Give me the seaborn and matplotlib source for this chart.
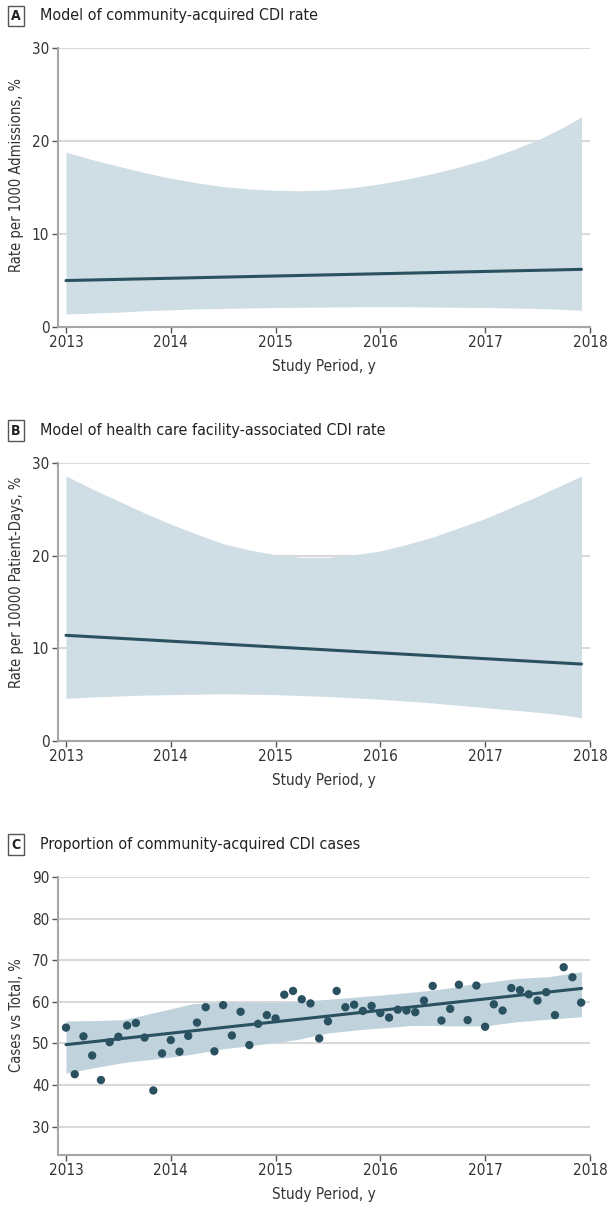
import matplotlib
matplotlib.use("Agg")
import matplotlib.pyplot as plt
import seaborn as sns
import pandas as pd

sns.set_theme(style="white")
plt.rcParams['font.family'] = ['DejaVu Sans']
plt.rcParams['font.stretch'] = 'condensed'

# panel A: community-acquired rate model
a_x = [2013.0, 2017.92]
a_fit = [5.0, 6.2]
a_band_x = [2013.0, 2013.25, 2013.5, 2013.75, 2014.0, 2014.25, 2014.5, 2014.75, 2015.0, 2015.25,
            2015.5, 2015.75, 2016.0, 2016.25, 2016.5, 2016.75, 2017.0, 2017.25, 2017.5, 2017.75, 2017.92]
a_upper = [18.8, 18.0, 17.3, 16.6, 16.0, 15.5, 15.1, 14.85, 14.7, 14.65,
           14.75, 15.0, 15.4, 15.9, 16.5, 17.2, 18.0, 19.0, 20.1, 21.5, 22.6]
a_lower = [1.4, 1.5, 1.6, 1.75, 1.85, 1.95, 2.0, 2.05, 2.1, 2.12,
           2.15, 2.18, 2.2, 2.18, 2.15, 2.12, 2.1, 2.05, 2.0, 1.9, 1.8]

# panel B: facility-associated rate model
b_x = [2013.0, 2017.92]
b_fit = [11.4, 8.3]
b_band_x = a_band_x
b_upper = [28.6, 27.2, 25.9, 24.6, 23.4, 22.3, 21.3, 20.6, 20.1, 19.8,
           19.8, 20.1, 20.5, 21.2, 22.0, 23.0, 24.0, 25.2, 26.4, 27.7, 28.6]
b_lower = [4.6, 4.75, 4.85, 4.95, 5.0, 5.05, 5.1, 5.05, 5.0, 4.9,
           4.8, 4.65, 4.5, 4.3, 4.1, 3.85, 3.6, 3.35, 3.1, 2.8, 2.5]

# panel C: proportion of community-acquired cases (monthly)
c_vals = [53.8, 42.6, 51.7, 47.1, 41.2, 50.3, 51.6, 54.3, 54.9, 51.4, 38.7, 47.6,
          50.8, 48.0, 51.8, 55.0, 58.7, 48.1, 59.2, 51.9, 57.6, 49.6, 54.7, 56.8,
          56.0, 61.7, 62.6, 60.6, 59.6, 51.2, 55.3, 62.6, 58.7, 59.3, 57.8, 59.0,
          57.3, 56.2, 58.1, 57.9, 57.5, 60.3, 63.8, 55.5, 58.3, 64.1, 55.6, 63.9,
          54.0, 59.4, 57.9, 63.3, 62.8, 61.8, 60.3, 62.3, 56.8, 68.3, 65.9, 59.8]
c_x = [2013 + m / 12 for m in range(len(c_vals))]
c_fit_x = [2013.0, 2017.92]
c_fit = [49.7, 63.2]
c_band_x = [2013.0, 2013.3, 2013.55, 2014.0, 2014.2, 2014.5, 2015.0, 2015.2, 2015.5,
            2015.8, 2016.0, 2016.3, 2016.5, 2016.7, 2016.9, 2017.0, 2017.3, 2017.6, 2017.92]
c_upper = [55.4, 55.5, 55.7, 58.3, 59.5, 60.0, 59.8, 60.1, 60.6,
           61.2, 61.6, 62.3, 62.8, 63.5, 64.4, 64.6, 65.6, 66.0, 67.2]
c_lower = [42.9, 44.3, 45.4, 46.7, 47.4, 48.7, 50.2, 50.9, 52.5,
           53.3, 53.7, 54.3, 54.3, 54.2, 54.2, 54.2, 55.2, 55.8, 56.4]

line_col = "#2a5160"
band_col = "#cfdde4"
band_col_c = "#c0d3dd"
grid_col = "#d9d9d9"
spine_col = "#a6a6a6"
text_col = "#333333"

fig = plt.figure(figsize=(6.09, 12.09), dpi=100)

panels = [
    dict(letter="A", title="Model of community-acquired CDI rate",
         ylabel="Rate per 1000 Admissions, %", rect=[0.0946, 0.7295, 0.874, 0.2308],
         ylim=(0, 30), yticks=[0, 10, 20, 30], ylab_y=0.545,
         bx=a_band_x, up=a_upper, lo=a_lower, fx=a_x, fy=a_fit, band=band_col, pts=None),
    dict(letter="B", title="Model of health care facility-associated CDI rate",
         ylabel="Rate per 10000 Patient-Days, %", rect=[0.0946, 0.3871, 0.874, 0.2300],
         ylim=(0, 30), yticks=[0, 10, 20, 30], ylab_y=0.572,
         bx=b_band_x, up=b_upper, lo=b_lower, fx=b_x, fy=b_fit, band=band_col, pts=None),
    dict(letter="C", title="Proportion of community-acquired CDI cases",
         ylabel="Cases vs Total, %", rect=[0.0946, 0.0447, 0.874, 0.2300],
         ylim=(23.2, 90), yticks=[30, 40, 50, 60, 70, 80, 90], ylab_y=0.504,
         bx=c_band_x, up=c_upper, lo=c_lower, fx=c_fit_x, fy=c_fit, band=band_col_c,
         pts=(c_x, c_vals)),
]

for p in panels:
    ax = fig.add_axes(p["rect"])
    ax.fill_between(p["bx"], p["lo"], p["up"], color=p["band"], lw=0, zorder=1)
    sns.lineplot(x=p["fx"], y=p["fy"], ax=ax, color=line_col, lw=2.2, zorder=3)
    if p["pts"] is not None:
        df = pd.DataFrame({"x": p["pts"][0], "y": p["pts"][1]})
        sns.scatterplot(data=df, x="x", y="y", ax=ax, color=line_col, s=36,
                        edgecolor="none", zorder=4)
    ax.set_xlim(2012.92, 2018)
    ax.set_ylim(*p["ylim"])
    ax.set_yticks(p["yticks"])
    ax.set_xticks([2013, 2014, 2015, 2016, 2017, 2018])
    ax.yaxis.grid(True, color=grid_col, lw=1.5, zorder=0)
    ax.set_axisbelow(True)
    for s in ["top", "right"]:
        ax.spines[s].set_visible(False)
    for s in ["left", "bottom"]:
        ax.spines[s].set_color(spine_col)
        ax.spines[s].set_linewidth(1.5)
    ax.tick_params(axis="both", which="both", direction="out", length=4, width=1,
                   color="#555555", labelcolor=text_col, labelsize=11, pad=2,
                   left=True, bottom=True)
    ax.set_xlabel("Study Period, y", fontsize=11, color=text_col, labelpad=6)
    ax.set_ylabel(p["ylabel"], fontsize=10.5, color=text_col)
    ax.yaxis.set_label_coords(-0.063, p["ylab_y"])

    # panel letter box and title
    top_px = (1 - (p["rect"][1] + p["rect"][3])) * 1209
    ty = 1 - (top_px - 32) / 1209
    fig.text(16 / 609, ty, p["letter"], ha="center", va="center", fontsize=10,
             fontweight="bold", color="#222222",
             bbox=dict(boxstyle="square,pad=0.25", fc="white", ec="#555555", lw=1))
    fig.text(40 / 609, ty, p["title"], ha="left", va="center", fontsize=11.5,
             color="#222222")

fig.savefig("out.png", dpi=100)
